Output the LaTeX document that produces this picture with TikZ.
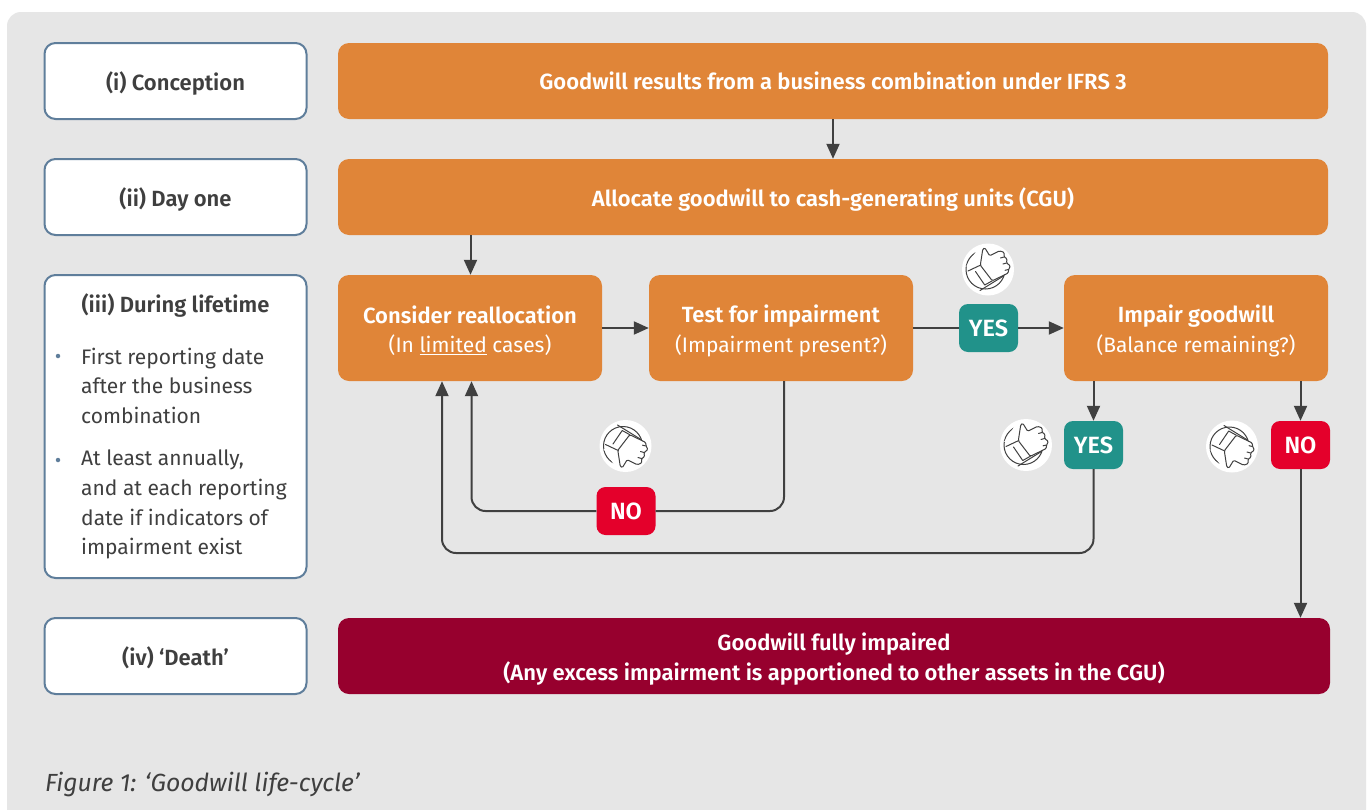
\documentclass[tikz,border=0pt]{standalone}
\usepackage{fontspec}
\setmainfont{Fira Sans}[BoldFont={Fira Sans SemiBold}]
\usetikzlibrary{arrows.meta,calc}
\definecolor{bgG}{HTML}{E6E6E6}
\definecolor{orG}{HTML}{E08538}
\definecolor{deathC}{HTML}{97002E}
\definecolor{tealC}{HTML}{21928A}
\definecolor{redC}{HTML}{E4002B}
\definecolor{edgeC}{HTML}{5F7E9B}
\definecolor{txtC}{HTML}{3F3F3F}
\definecolor{lineC}{HTML}{404040}
\newcommand{\bfs}{\fontsize{22}{30}\selectfont\bfseries}
\newcommand{\bdg}{\fontsize{23.5}{30}\selectfont\bfseries}
\newcommand{\rgs}{\fontsize{21}{29.6}\selectfont}
\newcommand{\lowr}{\rule{0pt}{23pt}}
\newcommand{\lowb}{\rule{0pt}{18pt}}
\tikzset{
 x=1pt,y=-1pt,
 labelbox/.style={draw=edgeC,line width=2pt,fill=white,rounded corners=11pt,minimum width=262pt,inner sep=0pt,text=txtC,font=\bfs},
 flowbox/.style={fill=orG,rounded corners=11pt,inner sep=0pt,text=white,font=\rgs,align=center},
 deathbox/.style={fill=deathC,rounded corners=11pt,inner sep=0pt,text=white,font=\bfs,align=center},
 yesbadge/.style={fill=tealC,rounded corners=9pt,minimum width=59pt,minimum height=48pt,inner sep=0pt,text=white,font=\bdg},
 nobadge/.style={fill=redC,rounded corners=9pt,minimum width=59pt,minimum height=48pt,inner sep=0pt,text=white,font=\bdg},
 conn/.style={draw=lineC,line width=2pt,rounded corners=14pt},
 arrowed/.style={conn,-{Triangle[length=15pt,width=13pt]}},
 plain/.style={conn},
 bullettext/.style={anchor=north west,text=txtC,font=\rgs,align=left,inner sep=0pt},
 bulletdot/.style={circle,fill=edgeC,minimum size=4.5pt,inner sep=0pt},
 handline/.style={draw=lineC,line width=1pt,line join=round,line cap=round},
}
% thumb icon: #1 centre, #2 yscale (1 up, -1 down), #3 node name
\newcommand{\thumbicon}[3]{%
 \node[circle,fill=white,minimum size=52pt,inner sep=0pt] (#3) at #1 {};
 \begin{scope}[shift={#1},yscale=#2]
  \draw[handline] (-2.5,0) circle (19.5);
  \fill[white] (-22,-3) -- (-8,-5) -- (4,11) -- (18,4) -- (23,-3) -- (18,-18) -- (-8,-24) -- cycle;
  \draw[handline] (-20,1.5) -- (-7.7,-4.3);
  \draw[handline,rounded corners=1.2pt] (-7.7,-4.3) -- (-5.2,-20.5) -- (-3.2,-21.7) -- (1.7,-13.7) -- (11.7,-18.7) -- (16.3,-17) -- (16,-12.5) -- (19,-11) -- (18.5,-6.5) -- (22.5,-3.5) -- (20.5,0) -- (20.3,3.5) -- (4.3,11.3) -- cycle;
  \draw[handline] (16,-12.5) -- (12.5,-11.5) (18.5,-6.5) -- (15,-5.5) (20.5,0) -- (17,0.8);
  \draw[handline] (-12.5,2) -- (-3.3,15.5) -- (4.3,11.3);
  \draw[handline] (-8,21) -- (15.5,6.5);
 \end{scope}}
\begin{document}
\begin{tikzpicture}
\useasboundingbox (0,0) rectangle (1368,809);
\fill[white] (0,0) rectangle (1368,809);
\fill[bgG,rounded corners=14pt] (7,12) -- (1366,12) -- (1366,830) -- (7,830) -- cycle;
% left labels
\node[labelbox,minimum height=76pt] (lconc) at (175.5,81) {\lowr(i) Conception};
\node[labelbox,minimum height=76pt] (lday) at (175.5,197) {\lowr(ii) Day one};
\node[labelbox,minimum height=303pt] (llife) at (175.5,426.5) {};
\node[labelbox,minimum height=76pt] (ldeath) at (175.5,656) {\lowr(iv) ‘Death’};
\node[text=txtC,font=\bfs] (ltitle) at (175.5,306) {(iii) During lifetime};
\node[bulletdot] (d1) at (58,356) {};
\node[bullettext] (t1) at (81,347.5) {First reporting date\\after the business\\combination};
\node[bulletdot] (d2) at (58,460) {};
\node[bullettext] (t2) at (81,450) {At least annually,\\and at each reporting\\date if indicators of\\impairment exist};
% flow boxes
\node[flowbox,minimum width=990pt,minimum height=76pt,font=\bfs] (conc) at (833,81) {\lowb Goodwill results from a business combination under IFRS 3};
\node[flowbox,minimum width=990pt,minimum height=76pt,font=\bfs] (alloc) at (833,197) {\lowr Allocate goodwill to cash-generating units (CGU)};
\node[flowbox,minimum width=264pt,minimum height=106pt] (realloc) at (470,328) {\lowr\textbf{\fontsize{22}{30}\selectfont Consider reallocation}\\(In \underline{limited} cases)};
\node[flowbox,minimum width=264pt,minimum height=106pt] (test) at (781,328) {\lowr\textbf{\fontsize{22}{30}\selectfont Test for impairment}\\(Impairment present?)};
\node[flowbox,minimum width=264pt,minimum height=106pt] (impair) at (1196,328) {\lowr\textbf{\fontsize{22}{30}\selectfont Impair goodwill}\\(Balance remaining?)};
\node[deathbox,minimum width=992pt,minimum height=76pt] (death) at (834,656) {\lowr Goodwill fully impaired\\(Any excess impairment is apportioned to other assets in the CGU)};
% badges
\node[yesbadge] (yesA) at (988.5,328) {\lowb YES};
\node[yesbadge] (yesB) at (1093.5,445) {\lowb YES};
\node[nobadge] (noA) at (626,511) {\lowb NO};
\node[nobadge] (noB) at (1300.5,445) {\lowb NO};
% connector guides
\coordinate (xA) at (833,0);
\coordinate (xB) at (470.5,0);
\coordinate (xC) at (442,0);
\coordinate (xD) at (784,0);
\coordinate (xE) at (471.5,0);
\coordinate (yC) at (0,553);
% connectors
\draw[arrowed] (conc.south -| xA) -- (alloc.north -| xA);
\draw[arrowed] (alloc.south -| xB) -- (realloc.north -| xB);
\draw[arrowed] (realloc.east) -- (test.west);
\draw[plain,rounded corners=0pt] (test.east) -- (yesA.west);
\draw[arrowed,rounded corners=0pt] (yesA.east) -- (impair.west);
\draw[arrowed] (impair.south -| yesB) -- (yesB.north);
\draw[arrowed] (impair.south -| noB) -- (noB.north);
\draw[arrowed] (noB.south) -- (death.north -| noB);
\draw[plain] (test.south -| xD) -- (noA.east -| xD) -- (noA.east);
\draw[arrowed] (noA.west) -- (noA.west -| xE) -- (realloc.south -| xE);
\draw[arrowed] (yesB.south) -- (yesB.south |- yC) -- (xC |- yC) -- (realloc.south -| xC);
% icons
\thumbicon{(988,269.5)}{1}{iconA}
\thumbicon{(1026,445)}{1}{iconB}
\thumbicon{(625.5,446)}{-1}{iconC}
\thumbicon{(1232,446.5)}{-1}{iconD}
\node[anchor=base west,inner sep=0pt,text=txtC,font=\fontsize{24.8}{28}\selectfont\itshape] (cap) at (45,791) {Figure 1: ‘Goodwill life-cycle’};
\end{tikzpicture}
\end{document}
